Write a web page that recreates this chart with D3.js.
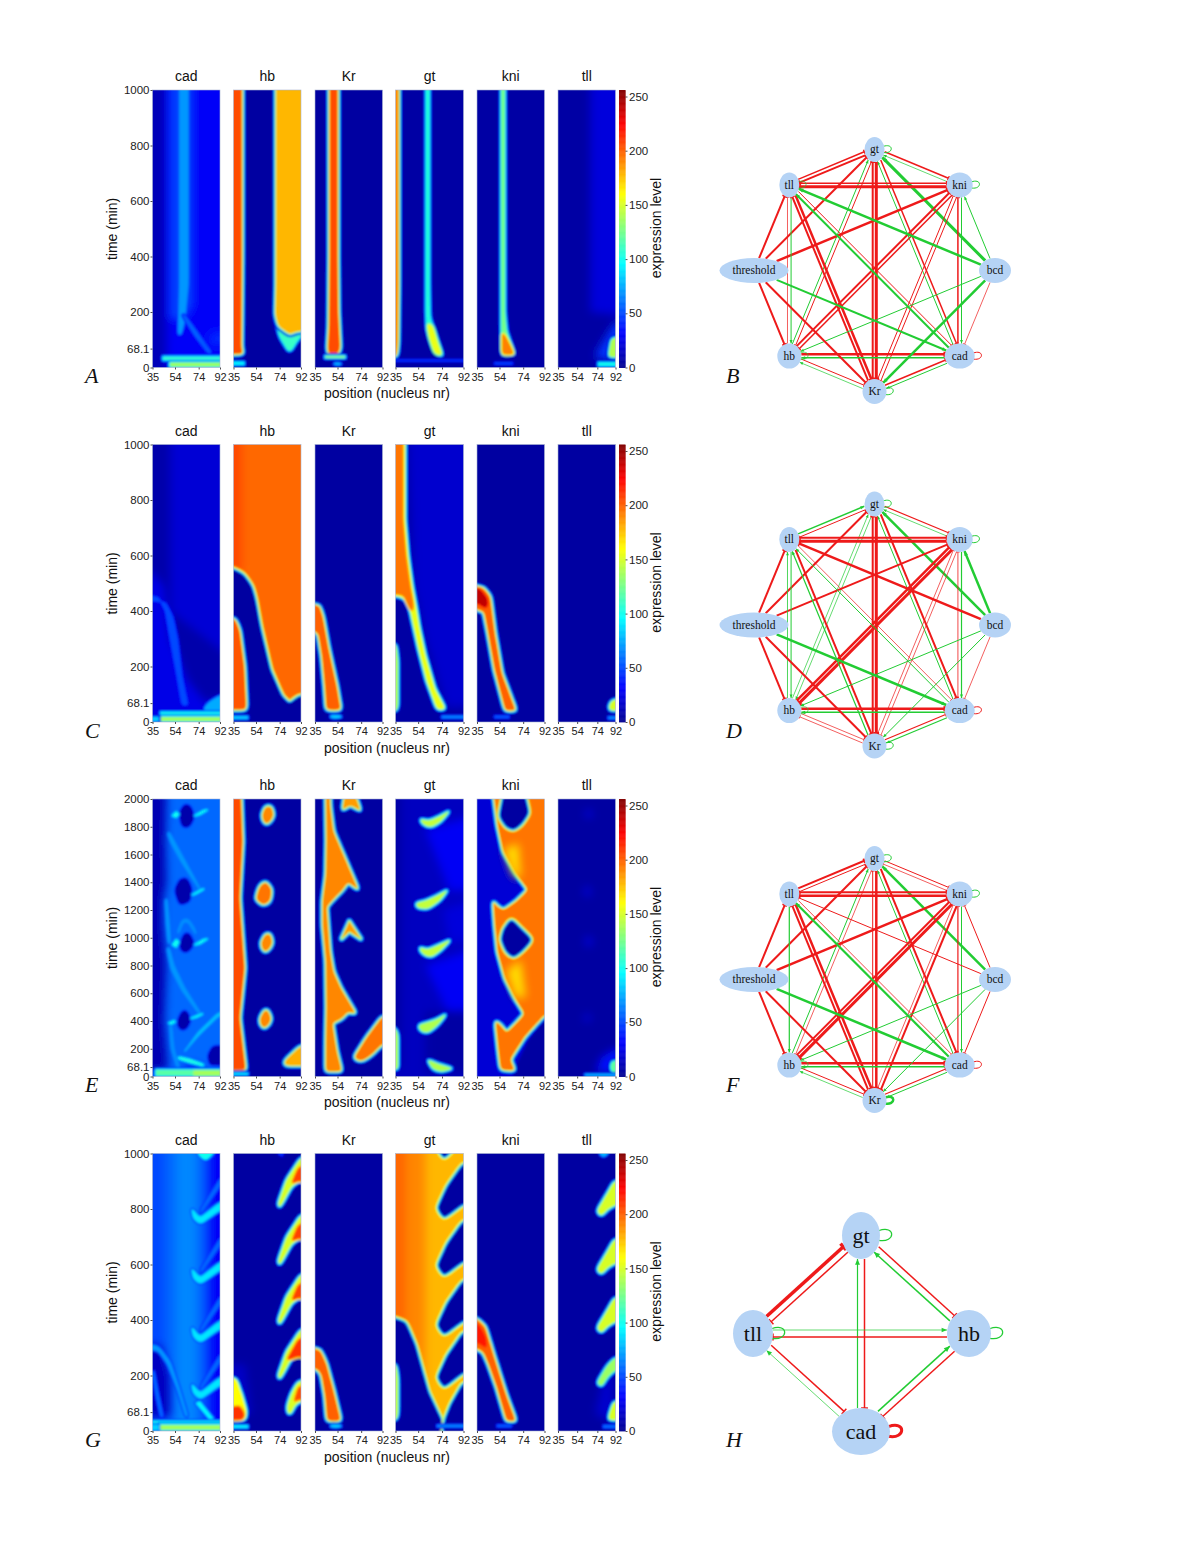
<!DOCTYPE html>
<html>
<head>
<meta charset="utf-8">
<script src="https://cdn.jsdelivr.net/npm/d3@7"></script>
<style>
  html, body { margin: 0; background: #fff; }
  text { font-family: "Liberation Sans", sans-serif; fill: #111; }
  .serif { font-family: "Liberation Serif", serif; }
  .tick line { stroke: #222; stroke-width: 0.8; }
  .tick text { fill: #222; }
  .domain { display: none; }
</style>
</head>
<body>
<svg id="fig" width="1200" height="1553"></svg>
<script>
// band = sharp region with a jet falloff around it, wash = diffuse region
function band(v, pts, on) { return { v, pts, on }; }
function wash(v, pts) { return { v, pts, wash: true }; }

const genes = ['cad', 'hb', 'Kr', 'gt', 'kni', 'tll'];
const posTicks = [35, 54, 74, 92];
const timeTicks1000 = [0, 68.1, 200, 400, 600, 800, 1000];
const timeTicks2000 = [0, 68.1, 200, 400, 600, 800, 1000, 1200, 1400, 1600, 1800, 2000];
const levelTicks = [0, 50, 100, 150, 200, 250];

// row A, [nucleus, minutes]
const A_cad = { base: 12, marks: [
  wash(30, [[47,1100],[110,1100],[110,-20],[47,-20]]),
  wash(48, [[49,1100],[70,1100],[70,220],[62,170],[49,170]]),
  band(70, [[58,1100],[65,1100],[65,300],[62,170],[59,120],[57,120],[58,300]], 46),
  band(56, [[60,190],[70,120],[82,52],[85,52],[73,125],[62,190]], 30),
  wash(42, [[80,80],[84,130],[110,135],[110,70]]),
  band(108, [[44,38],[110,38],[110,28],[44,28]], 30),
  band(135, [[50,17],[110,17],[110,4],[50,4]], 40)
]};
const A_hb = { base: 5, marks: [
  band(205, [[25,1100],[42,1100],[42,400],[41.5,70],[43,50],[25,48]]),
  band(95, [[25,20],[44,20],[44,10],[25,10]]),
  band(110, [[69,190],[74,110],[81,60],[84,60],[87,85],[95,130],[95,200]]),
  band(178, [[71,1100],[71,300],[70.5,190],[73,150],[80,128],[83,120],[86,128],[110,145],[110,1100]])
]};
const A_Kr = { base: 5, marks: [
  band(205, [[47.5,1100],[47.5,400],[47,150],[46,70],[46.5,50],[54.5,50],[56,70],[54.5,200],[54,400],[54,1100]]),
  band(140, [[44,40],[60,40],[60,36],[44,36]]),
  band(80, [[51,16],[55,17],[58,13],[55,9],[51,10]])
]};
const A_gt = { base: 6, marks: [
  band(190, [[25,1100],[37.5,1100],[37.5,300],[37,90],[36,40],[25,40]]),
  band(105, [[60.5,1100],[60.5,200],[61,140],[65,80],[71,42],[75,42],[72,80],[68,130],[64,180],[63.5,300],[63.5,1100]]),
  band(155, [[61.5,160],[63.5,110],[68,50],[74,44],[70,90],[66,150]], 105),
  band(45, [[30,27],[110,27],[110,23],[30,23]])
]};
const A_kni = { base: 6, marks: [
  band(125, [[55.5,1100],[55.5,200],[55.5,140],[56,60],[56,46],[67,46],[65,70],[60,130],[58.5,200],[58.5,1100]]),
  band(192, [[56.5,125],[56.5,48],[66,48],[63,78],[59,112]], 125),
  band(50, [[50,17],[65,17],[65,12],[50,12]])
]};
const A_tll = { base: 6, marks: [
  wash(22, [[67,1100],[110,1100],[110,180],[67,200]]),
  wash(45, [[92,165],[84,120],[72,45],[72,30],[110,30],[110,165]]),
  band(140, [[88,105],[86,60],[85,38],[110,38],[110,110]]),
  band(100, [[75,18],[110,18],[110,6],[75,6]])
]};

// row C
const C_cad = { base: 8, marks: [
  wash(20, [[50,1100],[110,1100],[110,200],[50,400]]),
  wash(25, [[30,560],[45,490],[50,300],[65,150],[80,70],[110,100],[110,-10],[30,-10]]),
  band(50, [[30,455],[40,450],[46,400],[50,300],[56,160],[60,60],[65,60],[60,160],[56,300],[52,380],[46,430],[38,436],[30,438]], 25),
  band(75, [[80,60],[84,75],[92,95],[110,100],[110,40],[78,40]], 25),
  band(100, [[42,35],[110,35],[110,25],[42,25]], 30),
  band(138, [[40,17],[110,17],[110,4],[40,4]], 40),
  band(85, [[25,17],[40,17],[40,4],[25,4]])
]};
const C_hb = { base: 198, marks: [
  wash(206, [[25,1100],[42,1100],[42,540],[25,540]]),
  band(5, [[25,552],[35,548],[43,530],[50,488],[53,440],[57,345],[65.6,188],[75.4,92],[82.5,62],[88,84],[91.5,92],[110,90],[110,-30],[25,-30]], 198),
  band(203, [[25,368],[36,372],[40,330],[44,200],[45.5,60],[45,45],[25,45]], 5),
  band(85, [[25,20],[47,20],[47,12],[25,12]], 5)
]};
const C_Kr = { base: 5, marks: [
  band(200, [[30,422],[38.4,419],[41.5,380],[46,272],[53.3,128],[56.6,44],[44.8,44],[43.4,128],[41,236],[37.8,320],[30,338]]),
  band(85, [[48,24],[56,23],[58,18],[54,14],[48,15]])
]};
const C_gt = { base: 6, marks: [
  wash(18, [[45,1100],[110,1100],[110,60],[78,50],[60,300],[50,500]]),
  band(155, [[25,1100],[43,1100],[43,730],[45.5,600],[49,490],[52,420],[55,340],[60,240],[68,120],[77,46],[70,44],[61,150],[54,270],[50,350],[47,410],[43,445],[37,455],[25,455]]),
  band(195, [[20,1100],[41,1100],[41,730],[43.5,600],[47,490],[50,420],[49,395],[46,420],[42,458],[37,462],[20,462]], 155),
  band(140, [[25,280],[35.5,280],[37,220],[37,60],[36,40],[25,40]]),
  band(70, [[74,21],[110,21],[110,15],[74,15]])
]};
const C_kni = { base: 5, marks: [
  band(200, [[25,495],[40.3,483],[46,452],[50,320],[55.8,176],[67.6,42],[59,42],[50,188],[44.5,320],[41,399],[25,419]]),
  band(240, [[25,480],[37,480],[44,440],[43,410],[36,430],[25,430]], 200),
  band(55, [[50,22],[62,22],[62,15],[50,15]])
]};
const C_tll = { base: 5, marks: [
  band(150, [[88,75],[92,80],[110,85],[110,42],[86,42],[86,60]]),
  band(70, [[85,18],[110,18],[110,12],[85,12]])
]};

// row E, twice the time range
const E_cad = { base: 58, marks: [
  wash(10, [[20,2050],[47,2050],[46,1700],[47,1400],[44,1270],[44,1100],[47,800],[45,400],[48,100],[48,40],[20,40]]),
  band(70, [[49,1760],[53,1700],[62,1560],[76,1340],[75.5,1340],[60,1540],[51,1680],[48,1750]]),
  band(70, [[47,1280],[49,1100],[50,960],[48.5,960],[47,1100],[46,1270]]),
  band(70, [[49,930],[53,800],[62,640],[76,450],[75,445],[60,620],[51,770],[47.5,920]]),
  band(68, [[56,1040],[60,1130],[65,1140],[71,1060],[72,1020],[65,1115],[61,1115],[57,1030]]),
  band(68, [[51,380],[53,200],[58,60],[56,60],[51,200],[49.5,380]]),
  band(80, [[63,190],[74,320],[91,460],[110,470],[110,440],[91,440],[74,300],[62,180]]),
  band(8, [[58,1900],[62,1960],[67,1950],[70,1870],[66,1800],[60,1800]], 58),
  band(8, [[54,1340],[58,1420],[64,1430],[68,1350],[66,1260],[58,1240]], 58),
  band(8, [[58,950],[62,1030],[66,1030],[70,960],[65,900],[60,900]], 58),
  band(8, [[56,390],[60,470],[64,470],[67,400],[63,340],[58,340]], 58),
  band(8, [[82,151],[86,218],[92,218],[110,230],[110,80],[92,86],[83.5,86]], 58),
  wash(25, [[66,100],[80,60],[80,50],[60,50]]),
  band(100, [[52,1880],[55,1905],[57,1890],[55,1870]]),
  band(100, [[71,1880],[78,1915],[81,1920],[75,1890]]),
  band(100, [[69,1310],[76,1345],[78,1350],[72,1320]]),
  band(100, [[52,950],[55,985],[57,970],[55,935]]),
  band(100, [[71,950],[78,985],[81,990],[75,958]]),
  band(100, [[68,420],[75,445],[77,450],[72,428]]),
  band(100, [[49,385],[53,400],[54,395],[51,380]]),
  band(105, [[57,140],[67,120],[78,85],[78,78],[66,105],[57,130]]),
  band(118, [[38,46],[110,46],[110,8],[38,8]], 30),
  band(138, [[70,38],[110,38],[110,12],[70,12]], 118)
]};
const E_hb = { base: 5, marks: [
  band(205, [[25,2060],[41,2060],[42.6,1694],[40,1286],[44.3,782],[40,422],[45,62],[44,48],[25,48]]),
  band(95, [[25,24],[47,24],[47,14],[25,14]]),
  band(190, [[59,1880],[62,1945],[67,1945],[69,1880],[65,1825],[61,1825]]),
  band(195, [[54,1280],[57,1370],[62,1405],[67,1350],[66,1265],[60,1235]]),
  band(190, [[58,960],[62,1025],[66,1025],[68,960],[64,905],[60,905]]),
  band(190, [[57,410],[61,475],[64,475],[67,410],[63,355],[59,355]]),
  band(180, [[78,110],[83,150],[91,215],[110,220],[110,80],[88,80],[79,80]])
]};
const E_Kr = { base: 5, marks: [
  band(190, [[44.3,2030],[44.8,1694],[44.3,1454],[41.5,1262],[41.5,1094],[44.3,830],[44.8,494],[44.3,254],[44.3,38],[57.5,38],[53.3,182],[49.6,386],[57.5,418],[63,470],[69.5,451],[56.6,638],[50.4,758],[47.6,902],[45.7,1118],[44.8,1226],[51.9,1291],[58.3,1346],[63,1402],[71.5,1346],[58.9,1598],[50.4,1766],[47.6,1958],[47.6,2030]]),
  band(185, [[64,1118],[57.5,994],[64,1046],[73.5,994]]),
  band(185, [[60.3,2030],[58.3,1922],[65,1958],[73.5,1915],[68.7,2030]]),
  band(195, [[67.9,134],[74.3,110],[82.8,158],[91.5,235],[110,245],[110,430],[91.5,427],[78.5,278]])
]};
const E_gt = { base: 14, marks: [
  wash(6, [[25,2050],[40,2050],[40,60],[25,60]]),
  wash(6, [[60,470],[110,470],[110,20],[60,20]]),
  wash(29, [[60,1780],[110,1900],[110,1350],[80,1340]]),
  wash(29, [[60,800],[110,950],[110,480],[78,480]]),
  wash(22, [[75,1200],[110,1300],[110,1000],[80,960]]),
  band(145, [[55.2,1862],[62.2,1838],[72,1874],[80.5,1915],[73.5,1843],[65,1795],[58,1814]]),
  band(145, [[51.9,1250],[60.8,1267],[70.7,1306],[79,1346],[72,1267],[62.2,1210],[53.8,1214]]),
  band(145, [[54.7,931],[62.2,914],[72,950],[81.3,986],[73.5,914],[65,859],[58,878]]),
  band(140, [[53.8,374],[60.8,386],[69.3,410],[77.7,451],[70.7,374],[62.2,314],[56,326]]),
  band(140, [[61.7,122],[72,86],[83.3,58],[73.5,34],[66.5,50]]),
  band(140, [[25,350],[35,350],[37,300],[37,50],[25,50]])
]};
const E_kni = { base: 20, marks: [
  band(5, [[92,400],[79,260],[66,30],[66,-30],[110,-30],[110,400]]),
  band(195, [[48.8,2060],[52.4,1814],[57.2,1622],[68.4,1454],[78.3,1346],[68.4,1262],[57.2,1195],[51.6,1226],[48.8,1262],[50.2,1094],[52.4,902],[58.6,710],[67,566],[75.4,451],[68.4,386],[60,314],[54.4,374],[50.7,398],[53,206],[55.2,50],[67,43],[62.8,122],[75.4,290],[92,446],[110,450],[110,2060]], 14),
  wash(168, [[58,1640],[66,1440],[72,1440],[70,1680]]),
  wash(168, [[60,760],[68,570],[76,570],[72,840]]),
  band(5, [[58.6,2060],[54.4,1874],[60,1800],[65.6,1780],[72,1820],[78.3,1898],[74,2060]], 195),
  band(5, [[64,1130],[58,1060],[55.8,986],[60,900],[65.6,860],[73,910],[81,986],[72,1060]], 195)
]};
const E_tll = { base: 5, marks: [
  wash(24, [[61,1890],[65,1930],[70,1890],[65,1860]]),
  wash(24, [[60,1330],[64,1380],[68,1330],[64,1290]]),
  wash(24, [[61,970],[65,1020],[70,970],[65,930]]),
  wash(24, [[60,420],[64,460],[68,420],[64,390]]),
  wash(34, [[78,140],[92,200],[110,200],[110,30],[72,30]]),
  band(120, [[87,70],[88,110],[110,115],[110,32],[88,34]]),
  band(85, [[62,15],[110,15],[110,8],[62,8]])
]};

// row G
const G_cad = { base: 50, marks: [
  wash(58, [[45,1100],[78,1100],[78,-20],[45,-20]]),
  wash(66, [[55,1100],[72,1100],[72,-20],[55,-20]]),
  wash(30, [[84,1100],[110,1100],[110,-20],[84,-20]]),
  wash(14, [[30,310],[42,310],[50,200],[50,50],[30,50]]),
  band(70, [[25,316],[40,305],[50,250],[58,150],[65,52],[63,52],[56,150],[48,240],[40,290],[25,300]], 40),
  band(58, [[36,220],[40,130],[44,50],[42,50],[38,130],[35,210]], 30),
  band(58, [[76,800],[92,905],[92,885],[76,785]], 40),
  band(58, [[76,585],[92,690],[92,670],[76,570]], 40),
  band(58, [[76,372],[92,478],[92,458],[76,357]], 40),
  band(58, [[76,165],[92,270],[92,250],[76,150]], 40),
  band(90, [[68,803],[75,767],[92,823],[110,830],[110,800],[92,797],[75.2,745],[69.5,765]], 40),
  band(90, [[68,587],[75,551],[92,607],[110,614],[110,584],[92,581],[75.2,529],[69.5,549]], 40),
  band(90, [[68,376],[75,340],[92,396],[110,403],[110,373],[92,370],[75.2,318],[69.5,338]], 40),
  band(90, [[68,172],[75,136],[92,192],[110,199],[110,169],[92,166],[75.2,114],[69.5,134]], 40),
  band(100, [[70,1040],[75,990],[80,975],[86,1000],[90,1040]], 40),
  band(95, [[72,100],[83,45],[86,45],[75,105]], 40),
  band(100, [[35,35],[110,35],[110,30],[35,30]], 30),
  band(138, [[40,21],[110,21],[110,5],[40,5]], 40),
  band(85, [[25,21],[40,21],[40,5],[25,5]])
]};
const G_hb = { base: 5, marks: [
  wash(16, [[25,240],[45,240],[50,60],[25,60]]),
  band(45, [[71,1040],[73,1000],[76,990],[80,1040]]),
  band(150, [[72.6,818],[79.7,905],[88,959],[91.5,983],[110,990],[110,850],[91.5,905],[83.9,881],[77,827],[74,806]]),
  band(150, [[72.6,611],[79.7,698],[88,752],[91.5,776],[110,783],[110,643],[91.5,698],[83.9,674],[77,620],[74,599]]),
  band(150, [[72.6,397],[79.7,484],[88,538],[91.5,562],[110,569],[110,429],[91.5,484],[83.9,460],[77,406],[74,385]]),
  band(150, [[72.6,199],[79.7,286],[88,340],[91.5,364],[110,371],[110,231],[91.5,286],[83.9,262],[77,208],[74,187]]),
  band(208, [[84,890],[90,950],[110,975],[110,880],[90,905]], 150),
  band(208, [[84,683],[90,743],[110,768],[110,673],[90,698]], 150),
  band(208, [[84,469],[90,529],[110,554],[110,459],[90,484]], 150),
  band(212, [[80,255],[90,331],[110,356],[110,246],[90,272]], 150),
  band(150, [[80.2,88],[83.9,136],[89.5,178],[110,185],[110,120],[91,106],[86.7,94],[83.9,64],[81,62]]),
  band(205, [[86,105],[90,160],[110,170],[110,115],[90,115]], 150),
  band(160, [[25,190],[37,190],[42,130],[46,70],[45,40],[25,38]]),
  band(212, [[25,75],[40,90],[44,62],[43,42],[25,42]], 160),
  band(95, [[25,20],[47,20],[47,12],[25,12]])
]};
const G_Kr = { base: 5, marks: [
  band(200, [[30,298],[39.2,292],[44.3,244],[50.4,148],[56.6,37],[45.4,37],[43.7,124],[40.6,202],[37.8,222],[30,230]]),
  band(85, [[48,22],[56,21],[58,17],[54,13],[48,14]])
]};
const G_gt = { base: 178, marks: [
  wash(190, [[25,1100],[60,1100],[60,-20],[25,-20]]),
  wash(198, [[25,1100],[44,1100],[44,-20],[25,-20]]),
  band(5, [[25,410],[35,402],[43,390],[51,310],[62,140],[74,30],[74,-30],[25,-30]], 185),
  band(5, [[92,960],[110,960],[110,820],[92,822],[75.7,770],[70.7,803],[79,881]], 175),
  band(5, [[92,753],[110,753],[110,613],[92,615],[75.7,563],[70.7,596],[79,674]], 175),
  band(5, [[92,539],[110,539],[110,399],[92,401],[75.7,349],[70.7,382],[79,460]], 175),
  band(5, [[92,352],[110,352],[110,212],[92,214],[75.7,160],[70.7,193],[79,271]], 175),
  band(5, [[92,170],[110,170],[110,-30],[75,-30],[77,40],[82,95]], 175),
  band(5, [[68,1040],[75.7,985],[88,1040]], 175),
  band(145, [[25,240],[35.5,240],[37,190],[37,65],[36,40],[25,40]], 5),
  band(70, [[70,21],[110,21],[110,15],[70,15]], 5)
]};
const G_kni = { base: 5, marks: [
  band(200, [[25,405],[35,403],[41.7,376],[50.2,256],[60,124],[67.6,37],[60,37],[51.6,160],[44.6,244],[40.3,286],[35,298],[25,298]]),
  band(218, [[25,395],[36,385],[42,340],[43,300],[36,320],[25,320]], 200),
  band(55, [[52,22],[64,22],[64,15],[52,15]])
]};
const G_tll = { base: 5, marks: [
  wash(18, [[72,60],[80,200],[90,210],[90,30]]),
  band(78, [[76,1040],[76,1000],[80,985],[85,1000],[85,1040]]),
  band(150, [[73.4,791],[83.2,851],[90.7,899],[110,905],[110,830],[91.4,815],[83.2,797],[78.3,773]]),
  band(150, [[73.4,581],[83.2,641],[90.7,689],[110,695],[110,620],[91.4,605],[83.2,587],[78.3,563]]),
  band(150, [[73.4,370],[83.2,430],[90.7,478],[110,484],[110,409],[91.4,394],[83.2,376],[78.3,352]]),
  band(135, [[73.4,172],[83.2,232],[90.7,262],[110,268],[110,225],[91.4,220],[83.2,190],[78.3,160]]),
  band(150, [[90,105],[86,60],[85,40],[110,40],[110,110]]),
  band(60, [[80,20],[110,20],[110,12],[80,12]])
]};

// networks: [from, to, signed strength], negative is repression
const circleNodes = ['gt', 'kni', 'bcd', 'cad', 'Kr', 'hb', 'threshold', 'tll'];
const squareNodes = ['gt', 'hb', 'cad', 'tll'];

const B_edges = [
  ['gt','kni',-1.5],['kni','gt',0.6],['gt','tll',-2],['tll','gt',-1.5],['threshold','gt',-2],['bcd','gt',3],
  ['gt','hb',-1],['hb','gt',1],['gt','cad',-1.5],['cad','gt',1],['gt','Kr',-3],['Kr','gt',-2],
  ['kni','tll',-3],['tll','kni',-1.5],['threshold','kni',-2.5],['bcd','kni',1],['kni','cad',1],['cad','kni',-1.5],
  ['kni','Kr',-1],['Kr','kni',-1],['kni','hb',-1.5],['hb','kni',-2],['bcd','tll',2.5],['threshold','tll',-2],
  ['tll','hb',1],['hb','tll',-0.5],['tll','Kr',-2.5],['Kr','tll',-2],['tll','cad',-1],['cad','tll',2],
  ['threshold','hb',-2],['hb','Kr',-1],['Kr','hb',0.7],['hb','cad',-2.5],['cad','hb',1.5],['bcd','hb',1],
  ['threshold','Kr',-2],['Kr','cad',-1.5],['cad','Kr',1],['bcd','Kr',2.5],['threshold','cad',2],['bcd','cad',-0.5],
  ['gt','gt',1],['kni','kni',1],['cad','cad',-1],['Kr','Kr',1],['hb','hb',0.7],['tll','tll',0.7]
];
const D_edges = [
  ['gt','kni',-1.2],['kni','gt',0.6],['gt','tll',-1],['tll','gt',1.5],['threshold','gt',-2],['bcd','gt',2.5],
  ['gt','hb',0.7],['hb','gt',0.7],['gt','cad',-2],['cad','gt',1],['gt','Kr',-3],['Kr','gt',-2],
  ['kni','tll',-3],['tll','kni',-2],['threshold','kni',-2],['bcd','kni',2.5],['kni','cad',1.2],['cad','kni',-0.8],
  ['kni','Kr',-0.6],['Kr','kni',-0.6],['kni','hb',-3],['hb','kni',-2.5],['bcd','tll',-2.5],['threshold','tll',-2],
  ['tll','hb',1],['hb','tll',0.8],['tll','Kr',-2],['Kr','tll',1.2],['tll','cad',-0.7],['cad','tll',1],
  ['threshold','hb',-2],['hb','Kr',-0.5],['Kr','hb',-0.5],['hb','cad',-2.5],['cad','hb',1.5],['bcd','hb',1],
  ['threshold','Kr',-2],['Kr','cad',-1.2],['cad','Kr',1.2],['bcd','Kr',1],['threshold','cad',2.5],['bcd','cad',-0.5],
  ['gt','gt',1],['kni','kni',1],['cad','cad',-1],['Kr','Kr',1],['hb','hb',0.7]
];
const F_edges = [
  ['gt','kni',-1],['kni','gt',-0.6],['gt','tll',-1],['tll','gt',-2],['threshold','gt',-2],['bcd','gt',2.5],
  ['gt','hb',-0.5],['hb','gt',1],['gt','cad',-2],['cad','gt',1],['gt','Kr',-2.5],['Kr','gt',-1],
  ['kni','tll',-2.5],['tll','kni',-2],['threshold','kni',-2.5],['bcd','kni',-1],['kni','cad',1],['cad','kni',-1.2],
  ['kni','Kr',-2],['Kr','kni',-0.5],['kni','hb',-3],['hb','kni',-2],['bcd','tll',-1],['threshold','tll',-2],
  ['tll','hb',1.2],['tll','Kr',-2.5],['Kr','tll',-2],['tll','cad',-0.8],['cad','tll',2.2],
  ['threshold','hb',-2],['hb','Kr',-1],['Kr','hb',0.7],['hb','cad',-2.5],['cad','hb',1.5],['bcd','hb',1],
  ['threshold','Kr',-2],['Kr','cad',-1.2],['cad','Kr',1],['bcd','Kr',1],['threshold','cad',2.5],['bcd','cad',-1],
  ['gt','gt',1],['kni','kni',1],['cad','cad',-1],['Kr','Kr',2.5],['hb','hb',0.7]
];
const H_edges = [
  ['tll','gt',-3.5],['gt','tll',-1.5],['gt','hb',-1.5],['hb','gt',1.5],['cad','gt',1.2],['gt','cad',-1.5],
  ['tll','hb',0.6],['hb','tll',-1.5],['tll','cad',-1.5],['cad','tll',0.6],['cad','hb',1.5],['hb','cad',-1.5],
  ['gt','gt',1.2],['hb','hb',1.2],['tll','tll',1.2],['cad','cad',-3]
];

const smallRx = { gt: 10, kni: 13, bcd: 16, cad: 15, Kr: 12, hb: 12, threshold: 34.5, tll: 10 };
const largeRx = { gt: 19, hb: 22, cad: 29, tll: 20 };

const rows = [
  { panel: 'A', graph: 'B', top: 90, tMax: 1000, ticks: timeTicks1000, data: [A_cad, A_hb, A_Kr, A_gt, A_kni, A_tll], edges: B_edges },
  { panel: 'C', graph: 'D', top: 444.5, tMax: 1000, ticks: timeTicks1000, data: [C_cad, C_hb, C_Kr, C_gt, C_kni, C_tll], edges: D_edges },
  { panel: 'E', graph: 'F', top: 799, tMax: 2000, ticks: timeTicks2000, data: [E_cad, E_hb, E_Kr, E_gt, E_kni, E_tll], edges: F_edges },
  { panel: 'G', graph: 'H', top: 1153.5, tMax: 1000, ticks: timeTicks1000, data: [G_cad, G_hb, G_Kr, G_gt, G_kni, G_tll], edges: H_edges }
];

const plotH = 277.5;
const panelX = [[152.5, 220], [233.5, 301], [315, 382.5], [395.5, 463.5], [477, 544.5], [558, 615.5]];

const jet = d3.scaleLinear()
  .domain([0, 32, 96, 160, 224, 256])
  .range(['#00008f', '#0000ff', '#00ffff', '#ffff00', '#ff0000', '#800000'])
  .clamp(true);

const svg = d3.select('#fig');
const defs = svg.append('defs');
function blur(id, sd) {
  defs.append('filter').attr('id', id)
    .attr('filterUnits', 'userSpaceOnUse')
    .attr('x', 0).attr('y', 0).attr('width', 1200).attr('height', 1553)
    .append('feGaussianBlur').attr('stdDeviation', sd);
}
blur('fine', 0.9);
blur('soft', 4);

let clipCount = 0;

// polygon outline in pixels, long sides split so the basis curve stays on them
function outline(pts, x, y) {
  const px = pts.map(p => [x(p[0]), y(p[1])]);
  const out = [];
  px.forEach((p, i) => {
    const q = px[(i + 1) % px.length];
    const n = Math.max(1, Math.round(Math.hypot(q[0] - p[0], q[1] - p[1]) / 6));
    d3.range(n).forEach(j => out.push([p[0] + (q[0] - p[0]) * j / n, p[1] + (q[1] - p[1]) * j / n]));
  });
  return out;
}

function drawHeat(root, panel, xr, top, tMax) {
  const x = d3.scaleLinear().domain([35, 92]).range(xr);
  const y = d3.scaleLinear().domain([0, tMax]).range([top + plotH, top]);
  const id = 'clip' + clipCount++;
  defs.append('clipPath').attr('id', id).append('rect')
    .attr('x', xr[0]).attr('y', top).attr('width', xr[1] - xr[0]).attr('height', plotH);

  const g = root.append('g').attr('clip-path', `url(#${id})`)
    .append('g').attr('filter', 'url(#fine)');
  g.append('rect').attr('x', xr[0] - 12).attr('y', top - 12)
    .attr('width', xr[1] - xr[0] + 24).attr('height', plotH + 24)
    .attr('fill', jet(panel.base));

  const smooth = d3.line().curve(d3.curveBasisClosed);
  const sharp = d3.line().x(d => x(d[0])).y(d => y(d[1])).curve(d3.curveLinearClosed);

  panel.marks.forEach(m => {
    const d = m.pts.length === 4 ? sharp(m.pts) : smooth(outline(m.pts, x, y));
    if (m.wash) {
      g.append('path').attr('d', d).attr('fill', jet(m.v)).attr('filter', 'url(#soft)');
      return;
    }
    const on = m.on === undefined ? panel.base : m.on;
    const r = 1.3 + Math.abs(m.v - on) / 70;
    [[1, 0.08], [0.8, 0.22], [0.6, 0.4], [0.4, 0.6], [0.2, 0.8]].forEach(([w, f]) => {
      const c = jet(on + (m.v - on) * f);
      g.append('path').attr('d', d).attr('fill', c)
        .attr('stroke', c).attr('stroke-width', 2 * r * w).attr('stroke-linejoin', 'round');
    });
    g.append('path').attr('d', d).attr('fill', jet(m.v));
  });

  root.append('rect').attr('x', xr[0]).attr('y', top)
    .attr('width', xr[1] - xr[0]).attr('height', plotH)
    .attr('fill', 'none').attr('stroke', '#a9b4d0').attr('stroke-width', 0.6);

  const xAxis = root.append('g').attr('transform', `translate(0,${top + plotH})`)
    .call(d3.axisBottom(x).tickValues(posTicks).tickSize(2).tickPadding(3.5));
  xAxis.selectAll('text').attr('font-size', 11);
  return y;
}

function drawColorbar(root, top) {
  const y = d3.scaleLinear().domain([0, 250]).range([top + plotH, top + plotH - 271]);
  const yTop = y.invert(top);
  root.selectAll(null).data(d3.range(0, yTop, 0.5)).enter().append('rect')
    .attr('x', 619).attr('width', 6.5)
    .attr('y', d => y(d + 0.5)).attr('height', Math.abs(y(0.5) - y(0)) + 0.4)
    .attr('fill', d => jet(d));
  root.append('g').attr('transform', 'translate(625.5,0)')
    .call(d3.axisRight(y).tickValues(levelTicks).tickSize(2).tickPadding(1.5))
    .selectAll('text').attr('font-size', 11.5);
  root.append('text').attr('transform', `translate(661,${top + 138}) rotate(-90)`)
    .attr('text-anchor', 'middle').attr('font-size', 14).text('expression level');
}

function drawGraph(root, names, rx, edges, cx, cy, rX, rY, ry, big) {
  const angle = d3.scaleBand().domain(names).range([0, 2 * Math.PI]);
  const pos = {};
  names.forEach(n => {
    const a = angle(n);
    pos[n] = { x: cx + rX * Math.sin(a), y: cy - rY * Math.cos(a), rx: rx[n], ry };
  });
  const hasBack = new Set(edges.map(e => e[0] + '>' + e[1]));
  const gap = big ? 3.5 : 1.8;
  const red = '#ee1a1a', green = '#22cc33';
  const g = root.append('g');

  function rim(p, dx, dy) {
    return 1 / Math.sqrt((dx / p.rx) * (dx / p.rx) + (dy / p.ry) * (dy / p.ry));
  }

  edges.forEach(([a, b, w]) => {
    const col = w < 0 ? red : green;
    const sw = Math.max(Math.abs(w), 0.7);
    const p = pos[a];
    if (a === b) {
      const s = big ? 1.6 : 1;
      const x0 = p.x + p.rx - 1.5;
      g.append('path')
        .attr('d', `M${x0},${p.y - 3 * s} C${x0 + 11 * s},${p.y - 7 * s} ${x0 + 11 * s},${p.y + 5 * s} ${x0},${p.y + 3 * s}`)
        .attr('fill', 'none').attr('stroke', col).attr('stroke-width', sw);
      return;
    }
    const q = pos[b];
    const dx = q.x - p.x, dy = q.y - p.y, len = Math.hypot(dx, dy);
    const off = hasBack.has(b + '>' + a) ? gap : 0;
    const nx = dy / len * off, ny = -dx / len * off;
    const t0 = rim(p, dx, dy), t1 = 1 - rim(q, dx, dy);
    const x0 = p.x + dx * t0 + nx, y0 = p.y + dy * t0 + ny;
    const x1 = p.x + dx * t1 + nx, y1 = p.y + dy * t1 + ny;
    g.append('line').attr('x1', x0).attr('y1', y0).attr('x2', x1).attr('y2', y1)
      .attr('stroke', col).attr('stroke-width', sw);
    const ux = dx / len, uy = dy / len;
    const head = (big ? 3.5 : 2) + sw * 0.5;
    if (w < 0) {
      g.append('line')
        .attr('x1', x1 - uy * head * 0.8).attr('y1', y1 + ux * head * 0.8)
        .attr('x2', x1 + uy * head * 0.8).attr('y2', y1 - ux * head * 0.8)
        .attr('stroke', col).attr('stroke-width', Math.max(sw, 0.8));
    } else {
      g.append('path')
        .attr('d', `M${x1},${y1} L${x1 - ux * head * 1.4 - uy * head * 0.6},${y1 - uy * head * 1.4 + ux * head * 0.6} L${x1 - ux * head * 1.4 + uy * head * 0.6},${y1 - uy * head * 1.4 - ux * head * 0.6} Z`)
        .attr('fill', col);
    }
  });

  names.forEach(n => {
    const p = pos[n];
    root.append('ellipse').attr('cx', p.x).attr('cy', p.y).attr('rx', p.rx).attr('ry', p.ry)
      .attr('fill', '#b5d3f5');
    root.append('text').attr('class', 'serif').attr('x', p.x).attr('y', p.y)
      .attr('dy', '.32em').attr('text-anchor', 'middle')
      .attr('font-size', big ? 22 : 11.5).text(n);
  });
}

rows.forEach((row, i) => {
  const root = svg.append('g');
  let yAxis;
  row.data.forEach((panel, k) => {
    const y = drawHeat(root, panel, panelX[k], row.top, row.tMax);
    if (k === 0) yAxis = y;
    root.append('text')
      .attr('x', (panelX[k][0] + panelX[k][1]) / 2)
      .attr('y', row.top - 9).attr('text-anchor', 'middle').attr('font-size', 14).text(genes[k]);
  });
  root.append('g').attr('transform', `translate(${panelX[0][0]},0)`)
    .call(d3.axisLeft(yAxis).tickValues(row.ticks).tickFormat(d => d).tickSize(2).tickPadding(1))
    .selectAll('text').attr('font-size', 11.5);
  root.append('text').attr('transform', `translate(117,${row.top + 139}) rotate(-90)`)
    .attr('text-anchor', 'middle').attr('font-size', 14).text('time (min)');
  root.append('text').attr('x', 387).attr('y', row.top + 308)
    .attr('text-anchor', 'middle').attr('font-size', 14).text('position (nucleus nr)');
  drawColorbar(root, row.top);

  root.append('text').attr('class', 'serif').attr('x', 85).attr('y', row.top + 293)
    .attr('font-size', 22).attr('font-style', 'italic').text(row.panel);
  root.append('text').attr('class', 'serif').attr('x', 726).attr('y', row.top + 293)
    .attr('font-size', 22).attr('font-style', 'italic').text(row.graph);

  if (i < 3) {
    drawGraph(root, circleNodes, smallRx, row.edges, 874.5, row.top + 180.5, 120.5, 121, 12.5, false);
  } else {
    drawGraph(root, squareNodes, largeRx, row.edges, 861, row.top + 180, 108, 98, 23.5, true);
  }
});
</script>
</body>
</html>
